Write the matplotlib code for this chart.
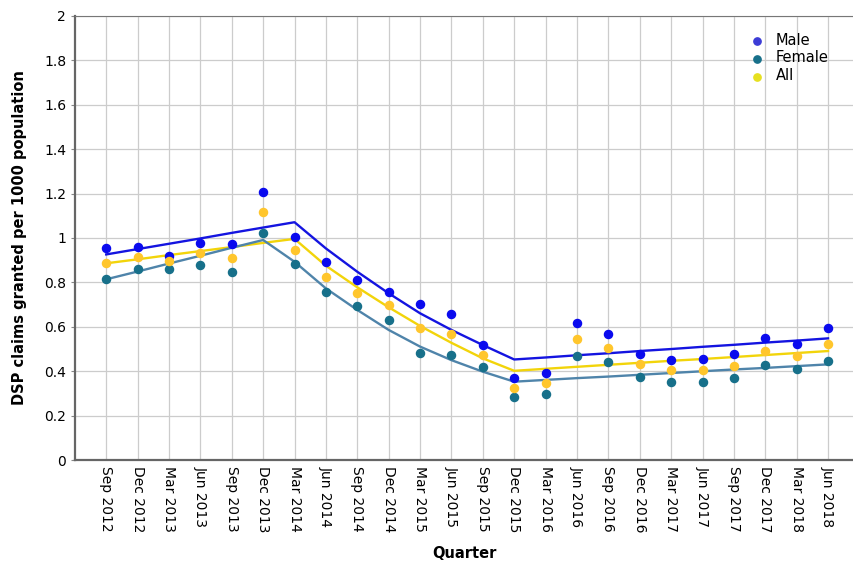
import numpy as np
import matplotlib
matplotlib.use("Agg")
import matplotlib.pyplot as plt
from matplotlib.ticker import FuncFormatter

quarters = ["Sep 2012", "Dec 2012", "Mar 2013", "Jun 2013", "Sep 2013", "Dec 2013",
            "Mar 2014", "Jun 2014", "Sep 2014", "Dec 2014", "Mar 2015", "Jun 2015",
            "Sep 2015", "Dec 2015", "Mar 2016", "Jun 2016", "Sep 2016", "Dec 2016",
            "Mar 2017", "Jun 2017", "Sep 2017", "Dec 2017", "Mar 2018", "Jun 2018"]

# observed rates
male = [0.953, 0.961, 0.919, 0.979, 0.974, 1.206, 1.003, 0.890, 0.811, 0.758,
        0.703, 0.660, 0.518, 0.368, 0.393, 0.616, 0.566, 0.476, 0.450, 0.455,
        0.477, 0.551, 0.521, 0.593]
female = [0.814, 0.862, 0.860, 0.880, 0.845, 1.024, 0.883, 0.758, 0.694, 0.631,
          0.480, 0.473, 0.420, 0.282, 0.297, 0.470, 0.443, 0.375, 0.353, 0.350,
          0.371, 0.428, 0.410, 0.445]
all_ = [0.886, 0.913, 0.898, 0.934, 0.911, 1.116, 0.945, 0.826, 0.754, 0.697,
        0.596, 0.567, 0.473, 0.326, 0.345, 0.544, 0.506, 0.431, 0.405, 0.405,
        0.425, 0.492, 0.468, 0.521]

# fitted trend lines
male_trend = [0.926, 0.950, 0.974, 0.998, 1.023, 1.047, 1.071, 0.953, 0.848, 0.751,
              0.661, 0.586, 0.518, 0.453, 0.462, 0.472, 0.481, 0.491, 0.500, 0.510,
              0.519, 0.529, 0.538, 0.548]
female_trend = [0.814, 0.849, 0.885, 0.920, 0.956, 0.991, 0.893, 0.773, 0.676, 0.586,
                0.511, 0.450, 0.398, 0.353, 0.361, 0.369, 0.376, 0.384, 0.392, 0.400,
                0.408, 0.415, 0.423, 0.431]
all_trend = [0.886, 0.904, 0.923, 0.941, 0.959, 0.978, 0.996, 0.875, 0.778, 0.688,
             0.604, 0.528, 0.458, 0.402, 0.411, 0.420, 0.429, 0.438, 0.447, 0.455,
             0.464, 0.473, 0.482, 0.491]

x = np.arange(len(quarters))

fig = plt.figure(figsize=(8.54, 5.68), dpi=100)
ax = fig.add_axes([0.088, 0.190, 0.911, 0.782])

ax.plot(x, male_trend, color="#1414e0", lw=1.7, zorder=2)
ax.plot(x, all_trend, color="#f2d40a", lw=1.7, zorder=2)
ax.plot(x, female_trend, color="#4f84aa", lw=1.7, zorder=2)

ax.scatter(x, male, s=34, color="#0a0aee", zorder=3, label="Male")
ax.scatter(x, female, s=34, color="#17708a", zorder=3, label="Female")
ax.scatter(x, all_, s=34, color="#ffc62c", zorder=3, label="All")

ax.set_xlim(-0.99, 23.8)
ax.set_ylim(0, 2)
ax.set_yticks(np.arange(0, 2.01, 0.2))
ax.yaxis.set_major_formatter(FuncFormatter(lambda v, p: f"{v:g}"))
ax.set_xticks(x)
ax.set_xticklabels(quarters, rotation=270, fontsize=10)
ax.tick_params(axis="x", length=0, pad=4)
ax.tick_params(axis="y", length=3, labelsize=10, color="#888888")

ax.grid(True, color="#cccccc", lw=0.9)
ax.set_axisbelow(True)

for s in ["left", "bottom"]:
    ax.spines[s].set_color("#666666")
    ax.spines[s].set_linewidth(1.6)
ax.spines["top"].set_color("#777777")
ax.spines["top"].set_linewidth(0.8)
ax.spines["right"].set_visible(False)

ax.set_xlabel("Quarter", fontsize=10.5, fontweight="bold", labelpad=10)
ax.set_ylabel("DSP claims granted per 1000 population", fontsize=10.5,
              fontweight="bold", labelpad=12)

leg = ax.legend(loc="upper right", bbox_to_anchor=(0.985, 0.992), frameon=False,
                fontsize=10.5, handletextpad=0.3, labelspacing=0.2, markerscale=0.9)
leg.legend_handles[0].set_color("#3c3cd6")
leg.legend_handles[2].set_color("#e6e020")

fig.savefig("out.png", dpi=100)
